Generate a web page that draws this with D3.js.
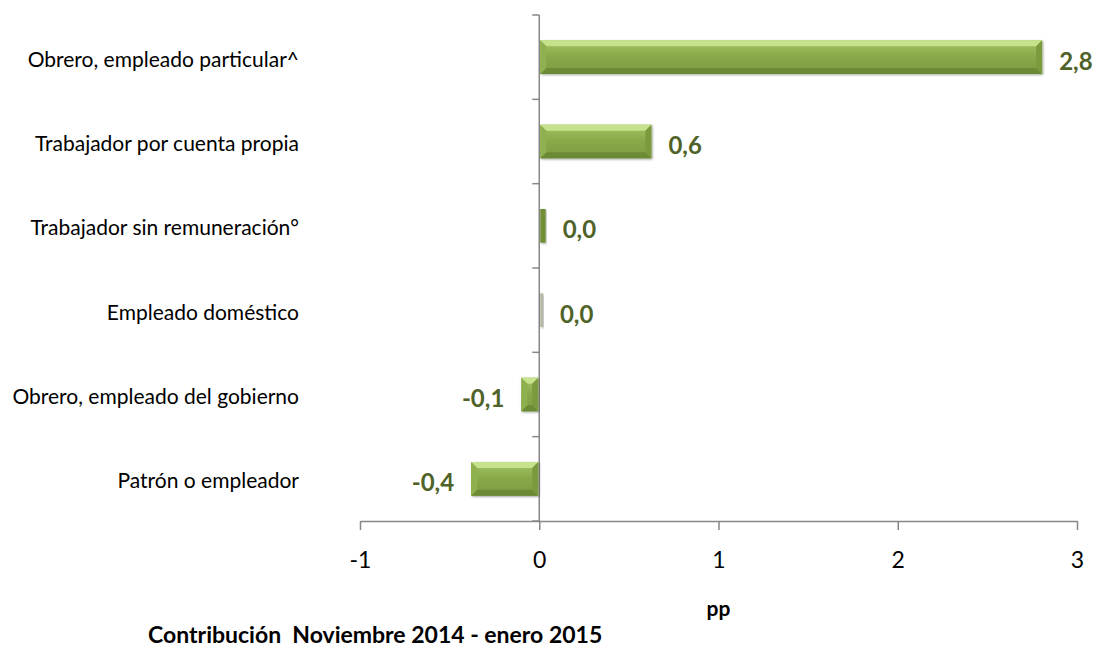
<!DOCTYPE html>
<html>
<head>
<meta charset="utf-8">
<script src="https://cdn.jsdelivr.net/npm/d3@7"></script>
<style>
  html, body { margin: 0; padding: 0; background: #fff; }
  svg { display: block; font-family: Lato, "Open Sans", sans-serif; }
</style>
</head>
<body>
<svg id="chart" width="1101" height="651"></svg>
<script>
// Contribución por posición ocupacional (puntos porcentuales)
const categories = [
  "Obrero, empleado particular^",
  "Trabajador por cuenta propia",
  "Trabajador sin remuneración°",
  "Empleado doméstico",
  "Obrero, empleado del gobierno",
  "Patrón o empleador"
];
const values = [2.8, 0.62, 0.03, 0.015, -0.1, -0.38];
const xTicks = [-1, 0, 1, 2, 3];
const xTitle = "pp";
const footTitle = "Contribución  Noviembre 2014 - enero 2015";

const svg = d3.select("#chart");
const axisColor = "#878787";
const labelColor = "#4f6228";

const x = d3.scaleLinear().domain([-1, 3]).range([360, 1077]);
const y = d3.scaleBand().domain(categories).range([15, 521])
  .paddingInner(0.6).paddingOuter(0.3);

// gradients for the bevelled bars
const defs = svg.append("defs");
function grad(id, stops) {
  const g = defs.append("linearGradient").attr("id", id)
    .attr("x1", 0).attr("y1", 0).attr("x2", 0).attr("y2", 1);
  stops.forEach(s => g.append("stop").attr("offset", s[0]).attr("stop-color", s[1]));
}
grad("gBody", [[0, "#a4c463"], [0.5, "#87a849"], [1, "#7c9c40"]]);
grad("gBodyPale", [[0, "#c4c9b4"], [1, "#a7ad95"]]);
defs.append("filter").attr("id", "shadow")
  .attr("x", "-10%").attr("y", "-20%").attr("width", "120%").attr("height", "150%")
  .call(f => {
    f.append("feGaussianBlur").attr("in", "SourceAlpha").attr("stdDeviation", 1.2).attr("result", "b");
    f.append("feOffset").attr("in", "b").attr("dx", 0.5).attr("dy", 1).attr("result", "o");
    f.append("feComponentTransfer").attr("in", "o").attr("result", "o2")
      .append("feFuncA").attr("type", "linear").attr("slope", 0.35);
    const m = f.append("feMerge");
    m.append("feMergeNode").attr("in", "o2");
    m.append("feMergeNode").attr("in", "SourceGraphic");
  });

// x axis
const xAxis = d3.axisBottom(x).tickValues(xTicks).tickSize(9).tickSizeOuter(0)
  .tickFormat(d3.format("d"));
const gx = svg.append("g").attr("transform", `translate(0,${y.range()[1]})`).call(xAxis);
gx.select(".domain").attr("stroke", axisColor).attr("stroke-width", 1.5);
gx.selectAll(".tick line").attr("stroke", axisColor).attr("stroke-width", 1.5);
gx.selectAll(".tick text").attr("fill", "#000").attr("font-size", 23)
  .attr("font-family", "Lato, sans-serif").attr("y", 31).attr("dy", "0.71em")
  .text(d => d < 0 ? "-" + Math.abs(d) : d);

// category axis at zero with ticks on band boundaries
const x0 = x(0);
const [yTop, yBot] = y.range();
svg.append("line").attr("x1", x0).attr("x2", x0).attr("y1", yTop).attr("y2", yBot)
  .attr("stroke", axisColor).attr("stroke-width", 1.5);
const step = y.step();
d3.range(categories.length + 1).forEach(i => {
  svg.append("line").attr("x1", x0 - 7).attr("x2", x0)
    .attr("y1", yTop + i * step).attr("y2", yTop + i * step)
    .attr("stroke", axisColor).attr("stroke-width", 1.5);
});

// category labels
svg.append("g").selectAll("text").data(categories).join("text")
  .attr("x", 299).attr("y", d => y(d) + y.bandwidth() / 2 + 1)
  .attr("text-anchor", "end").attr("dominant-baseline", "central")
  .attr("font-size", 21).attr("fill", "#000").text(d => d);

// bars
const data = categories.map((c, i) => ({ c, v: values[i] }));
const bars = svg.append("g").selectAll("g").data(data).join("g")
  .attr("filter", "url(#shadow)");
bars.each(function (d, i) {
  const g = d3.select(this);
  const x1 = Math.min(x(0), x(d.v)) + (d.v > 0 ? 1 : 0);
  const x2 = Math.max(x(0), x(d.v)) - (d.v < 0 ? 1 : 0) + (d.v > 0 ? 1 : 0);
  const yt = y(d.c), h = y.bandwidth(), yb = yt + h;
  const w = x2 - x1;
  const pale = i === 3;
  g.append("rect").attr("x", x1).attr("y", yt).attr("width", w).attr("height", h)
    .attr("fill", pale ? "url(#gBodyPale)" : "url(#gBody)");
  const b = Math.min(6, w / 2, h / 2);
  if (w > 8) {
    // top bevel (light)
    g.append("polygon").attr("points", [[x1, yt], [x2, yt], [x2 - b, yt + b], [x1 + b, yt + b]].join(" "))
      .attr("fill", pale ? "#d8dccb" : "#c6e28c");
    // bottom bevel (dark)
    g.append("polygon").attr("points", [[x1, yb], [x2, yb], [x2 - b, yb - b], [x1 + b, yb - b]].join(" "))
      .attr("fill", pale ? "#989e86" : "#6a8a34");
    // left and right bevels
    g.append("polygon").attr("points", [[x1, yt], [x1 + b, yt + b], [x1 + b, yb - b], [x1, yb]].join(" "))
      .attr("fill", pale ? "#b9bfa8" : "#8fb04f");
    g.append("polygon").attr("points", [[x2, yt], [x2 - b, yt + b], [x2 - b, yb - b], [x2, yb]].join(" "))
      .attr("fill", pale ? "#a3a993" : "#7a9a3e");
  } else {
    g.select("rect").attr("fill", pale ? "#b3b8a2" : "#6f8f35");
  }
});

// value labels
const fmt = v => d3.format(".1f")(Math.abs(v) < 0.05 ? 0 : v).replace(".", ",").replace("−", "-");
svg.append("g").selectAll("text").data(data).join("text")
  .attr("x", d => d.v >= 0 ? x(d.v) + 18 : x(d.v) - 17)
  .attr("y", d => y(d.c) + y.bandwidth() / 2 + 3)
  .attr("text-anchor", d => d.v >= 0 ? "start" : "end")
  .attr("dominant-baseline", "central")
  .attr("font-size", 24).attr("font-weight", "bold").attr("fill", labelColor)
  .text(d => fmt(d.v));

// axis title and footer
svg.append("text").attr("x", x(1)).attr("y", 616).attr("text-anchor", "middle")
  .attr("font-size", 21).attr("font-weight", "bold").attr("fill", "#000").text(xTitle);
svg.append("text").attr("x", 148).attr("y", 643).style("white-space", "pre")
  .attr("font-size", 23).attr("font-weight", "bold").attr("fill", "#000").text(footTitle);
</script>
</body>
</html>
